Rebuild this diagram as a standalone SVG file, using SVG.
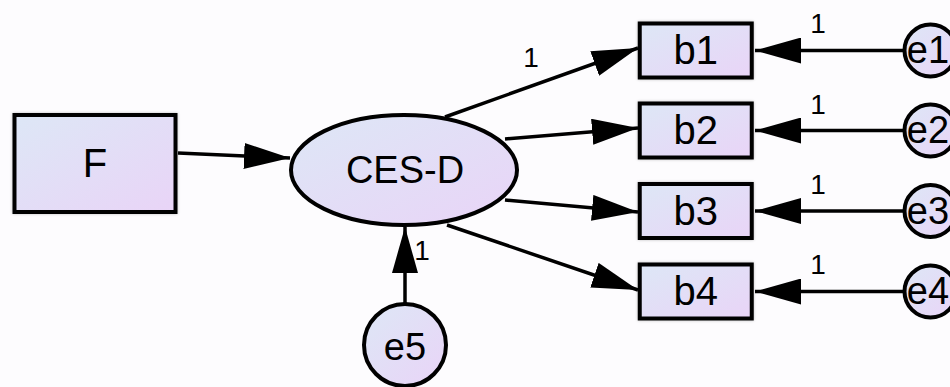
<svg xmlns="http://www.w3.org/2000/svg" width="950" height="387" viewBox="0 0 950 387">
<defs>
<linearGradient id="nodeFill" x1="0" y1="0" x2="1" y2="1">
<stop offset="0" stop-color="#dde7f6"/>
<stop offset="1" stop-color="#e9d4f7"/>
</linearGradient>
<filter id="soft" x="-10%" y="-10%" width="120%" height="120%">
<feGaussianBlur in="SourceAlpha" stdDeviation="1.5"/>
<feOffset dx="0" dy="0" result="b"/>
<feComponentTransfer><feFuncA type="linear" slope="0.25"/></feComponentTransfer>
<feMerge><feMergeNode/><feMergeNode in="SourceGraphic"/></feMerge>
</filter>
<marker id="arrow" viewBox="0 0 46 26" refX="46" refY="13" markerWidth="46" markerHeight="26" markerUnits="userSpaceOnUse" orient="auto">
<path d="M0,0 L46,13 L0,26 Z" fill="#000"/>
</marker>
</defs>
<style>
.node{fill:url(#nodeFill);stroke:#000;stroke-width:4}
.conn{stroke:#000;stroke-width:3.5;fill:none;marker-end:url(#arrow)}
.lbl{font-family:"Liberation Sans",Arial,sans-serif;fill:#000;text-anchor:middle}
.big{font-size:40px}
.mid{font-size:38px}
.one{font-size:28px}
</style>
<rect x="0" y="0" width="950" height="387" fill="#fdfcfe"/>
<g id="connectors">
<line class="conn" x1="178" y1="153" x2="290" y2="158"/>
<line class="conn" x1="445" y1="117" x2="638" y2="48"/>
<line class="conn" x1="505" y1="139" x2="638" y2="128"/>
<line class="conn" x1="505" y1="200" x2="638" y2="212"/>
<line class="conn" x1="447" y1="225" x2="638" y2="290"/>
<line class="conn" x1="903" y1="50.5" x2="755" y2="50.5"/>
<line class="conn" x1="903" y1="130.5" x2="755" y2="130.5"/>
<line class="conn" x1="903" y1="211" x2="755" y2="211"/>
<line class="conn" x1="903" y1="291.5" x2="755" y2="291.5"/>
<line class="conn" x1="405" y1="303" x2="405" y2="227"/>
<text class="lbl one" x="531" y="67">1</text>
<text class="lbl one" x="818" y="33">1</text>
<text class="lbl one" x="818" y="114">1</text>
<text class="lbl one" x="818" y="194">1</text>
<text class="lbl one" x="818" y="274">1</text>
<text class="lbl one" x="422" y="260">1</text>
</g>
<g id="F">
<rect class="node" filter="url(#soft)" x="14.5" y="115" width="161" height="97"/>
<text class="lbl big" x="95" y="177">F</text>
</g>
<g id="CES-D">
<ellipse class="node" cx="404" cy="170" rx="113" ry="55"/>
<text class="lbl mid" x="405" y="183">CES-D</text>
</g>
<g id="b1">
<rect class="node" filter="url(#soft)" x="639.75" y="23.5" width="112" height="54"/>
<text class="lbl big" x="695.75" y="64">b1</text>
</g>
<g id="b2">
<rect class="node" filter="url(#soft)" x="639.75" y="103.5" width="112" height="54"/>
<text class="lbl big" x="695.75" y="144">b2</text>
</g>
<g id="b3">
<rect class="node" filter="url(#soft)" x="639.75" y="184" width="112" height="54"/>
<text class="lbl big" x="695.75" y="224.5">b3</text>
</g>
<g id="b4">
<rect class="node" filter="url(#soft)" x="639.75" y="264.5" width="112" height="54"/>
<text class="lbl big" x="695.75" y="305">b4</text>
</g>
<g id="e1">
<circle class="node" cx="930.5" cy="50.5" r="26"/>
<text class="lbl mid" x="928" y="63">e1</text>
</g>
<g id="e2">
<circle class="node" cx="930.5" cy="130.5" r="26"/>
<text class="lbl mid" x="928" y="143">e2</text>
</g>
<g id="e3">
<circle class="node" cx="930.5" cy="211" r="26"/>
<text class="lbl mid" x="928" y="223.5">e3</text>
</g>
<g id="e4">
<circle class="node" cx="930.5" cy="291.5" r="26"/>
<text class="lbl mid" x="928" y="304">e4</text>
</g>
<g id="e5">
<circle class="node" cx="405" cy="345" r="41"/>
<text class="lbl mid" x="405" y="360">e5</text>
</g>
</svg>
